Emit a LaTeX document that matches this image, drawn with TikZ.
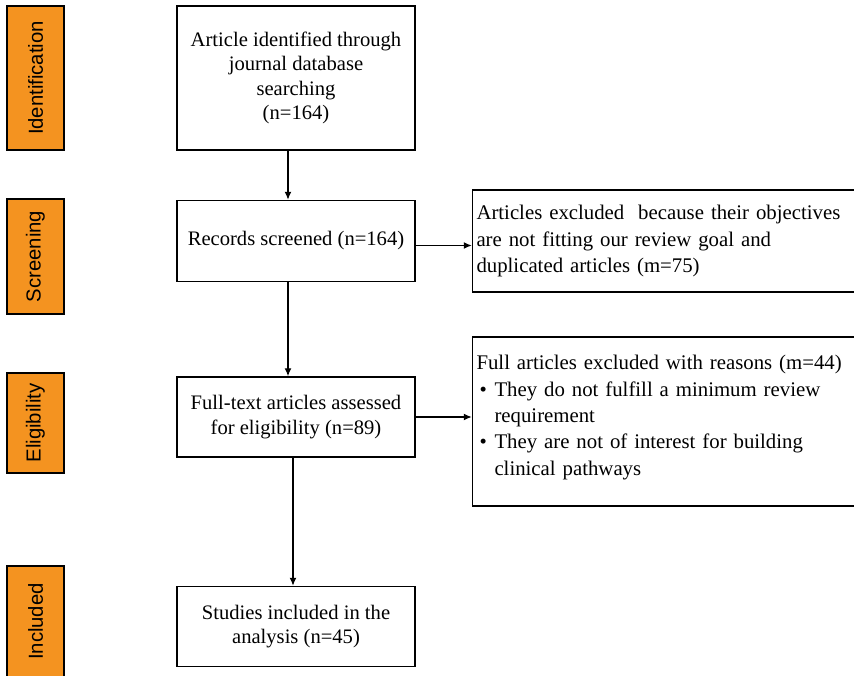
\documentclass[tikz,border=0pt]{standalone}
\usepackage{fontspec}
\setmainfont{Liberation Serif}
\setsansfont{Liberation Sans}
\usetikzlibrary{arrows.meta,positioning}
\definecolor{stageorange}{RGB}{244,147,32}
\tikzstyle{line} = [draw, line width=1.3pt, -{Latex[length=8pt,width=7pt]}]
\tikzstyle{stepbox} = [draw, line width=1.5pt, fill=white, minimum width=238pt, align=center, font=\fontsize{20.6pt}{24.5pt}\selectfont]
\tikzstyle{sidebox} = [draw, line width=1.5pt, minimum width=400pt, text width=392pt, inner xsep=4pt, align=left, font=\fontsize{20.8pt}{26.3pt}\selectfont]
\tikzstyle{stage} = [draw, line width=1.3pt, fill=stageorange, rotate=90, minimum height=57pt, font=\sffamily\fontsize{20.3pt}{24pt}\selectfont]

\begin{document}
\begin{tikzpicture}[x=1pt,y=-1pt]
        \useasboundingbox (0,0) rectangle (854,675);
        \clip (0,0) rectangle (854,675);
        % stages
        \node [stage, minimum width=144pt] (s1) at (35.5,78) {Identification};
        \node [stage, minimum width=115pt] (s2) at (35.5,256.5) {Screening};
        \node [stage, minimum width=100pt] (s3) at (35.5,423) {Eligibility};
        \node [stage, minimum width=111pt] (s4) at (35.5,621.5) {Included};
        % main flow
        \node [stepbox, minimum height=144pt] (ident) at (296,78) {Article identified through\\journal database\\searching\\(n=164)};
        \node [stepbox, minimum height=81pt, below = 49pt of ident] (screen) {Records screened (n=164)};
        \node [stepbox, minimum height=80pt, below = 94pt of screen] (full) {Full-text articles assessed\\for eligibility (n=89)};
        \node [stepbox, minimum height=80pt, below = 128pt of full] (incl) {Studies included in the\\analysis (n=45)};
        % exclusions
        \node [sidebox, minimum height=102pt, right = 56pt of screen] (excl1) {Articles excluded\ \ because their objectives\\are not fitting our review goal and\\duplicated articles (m=75)};
        \node [sidebox, minimum height=169pt, right = 56pt of full, yshift=-4.5pt] (excl2) {Full articles excluded with reasons (m=44)\\
            \makebox[18pt][l]{\hspace{3pt}\textbullet}They do not fulfill a minimum review\\
            \hspace*{18pt}requirement\\
            \makebox[18pt][l]{\hspace{3pt}\textbullet}They are not of interest for building\\
            \hspace*{18pt}clinical pathways\par\vspace{8pt}\hrule height 0pt depth 0pt};
        \draw [line] ([xshift=-8pt]ident.south) -- ([xshift=-8pt]screen.north);
        \draw [line] ([xshift=-8pt]screen.south) -- ([xshift=-8pt]full.north);
        \draw [line] ([xshift=-3pt]full.south) -- ([xshift=-3pt]incl.north);
        \draw [line] ([yshift=-4.5pt]screen.east) -- ([yshift=-4.5pt]excl1.west);
        \draw [line] (full.east) -- (full.east -| excl2.west);
    \end{tikzpicture}
\end{document}
